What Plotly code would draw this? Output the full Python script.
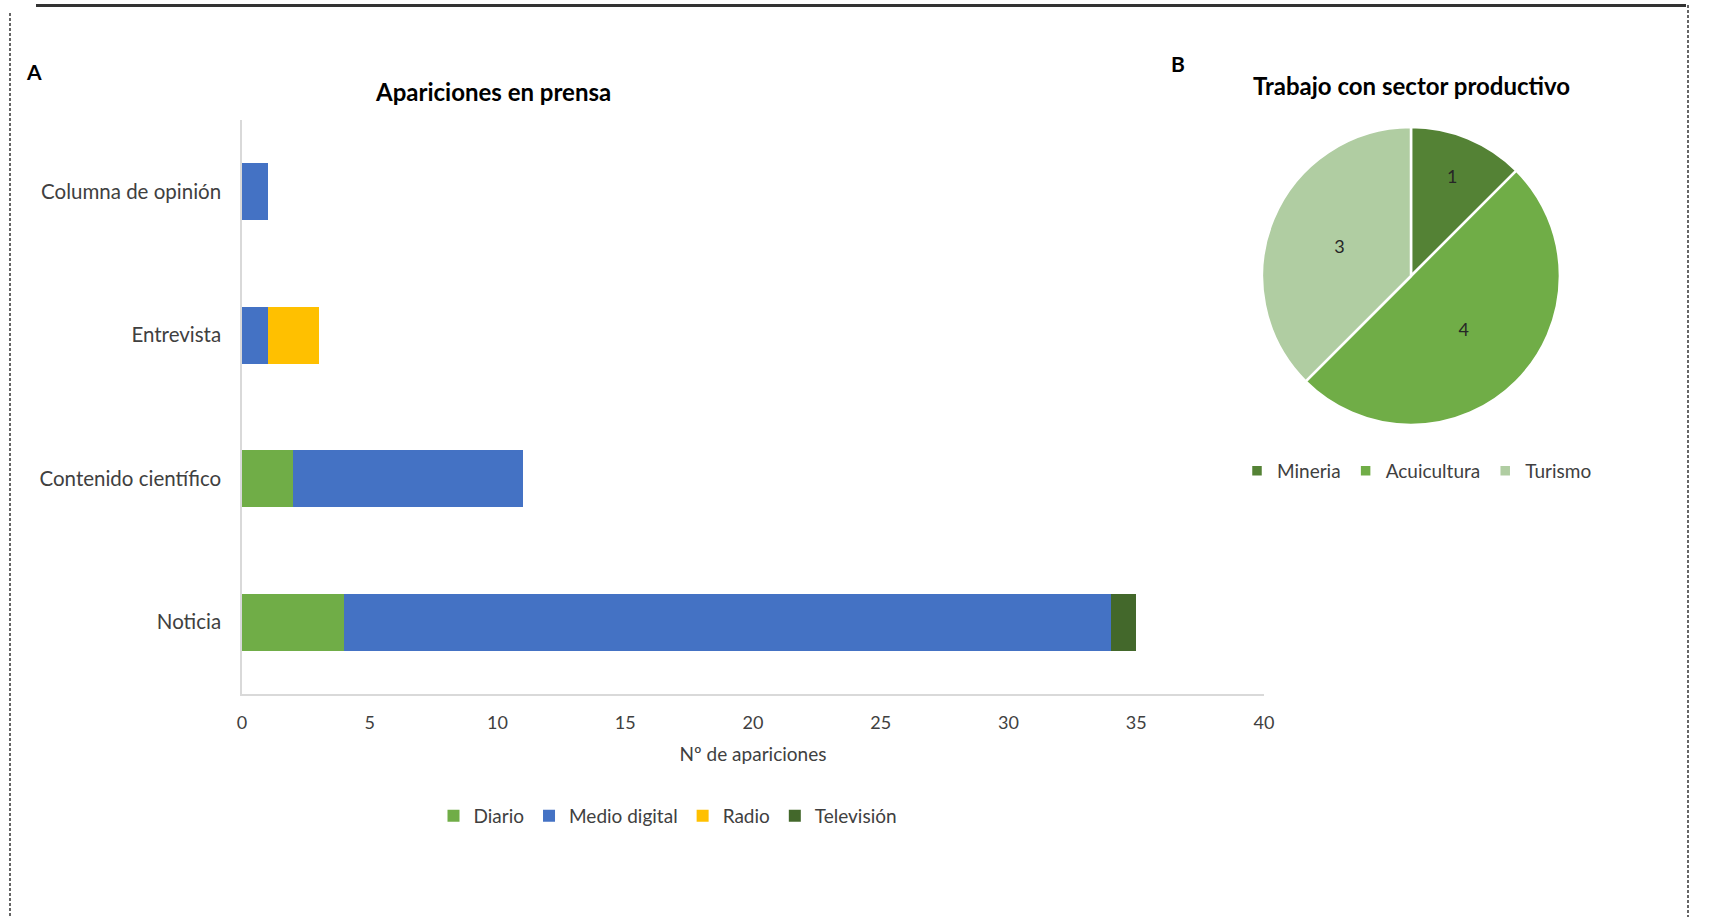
import plotly.graph_objects as go

# ---- Data ----
categorias = ["Columna de opinión", "Entrevista", "Contenido científico", "Noticia"]
diario = [0, 0, 2, 4]
medio_digital = [1, 1, 9, 30]
radio = [0, 2, 0, 0]
television = [0, 0, 0, 1]

x_ticks = [0, 5, 10, 15, 20, 25, 30, 35, 40]

sectores = ["Mineria", "Acuicultura", "Turismo"]
sector_valores = [1, 4, 3]

W, H = 1709, 917
FONT = "Lato"

def px(x):
    return x / W

def py(y):
    return 1 - y / H

fig = go.Figure()

series = [
    ("Diario", diario, "#70AD47"),
    ("Medio digital", medio_digital, "#4472C4"),
    ("Radio", radio, "#FFC000"),
    ("Televisión", television, "#43682B"),
]
for name, vals, col in series:
    fig.add_trace(go.Bar(
        y=categorias, x=vals, name=name, orientation="h",
        marker=dict(color=col, line=dict(width=0)),
        legend="legend", hoverinfo="x+name",
    ))

fig.add_trace(go.Pie(
    labels=sectores, values=sector_valores, sort=False,
    direction="clockwise", rotation=0,
    marker=dict(colors=["#548235", "#70AD47", "#B0CDA2"],
                line=dict(color="white", width=2.5)),
    textinfo="value", textposition="inside",
    insidetextorientation="horizontal",
    textfont=dict(size=18, color="#262626", family=FONT),
    domain=dict(x=[px(1262), px(1560)], y=[py(425), py(127)]),
    legend="legend2", showlegend=True,
))

fig.update_layout(
    width=W, height=H,
    margin=dict(l=0, r=0, t=0, b=0, pad=0, autoexpand=False),
    paper_bgcolor="white", plot_bgcolor="white",
    font=dict(family=FONT, color="#404040", size=18),
    barmode="stack", bargap=0.6,
    xaxis=dict(
        domain=[px(242), px(1264)], range=[0, 40],
        tickvals=x_ticks, showgrid=False, zeroline=False,
        showline=True, linecolor="#D9D9D9", linewidth=1.5,
        ticks="", ticklabelstandoff=12, automargin=False,
        tickfont=dict(size=18, color="#404040"),
        title=dict(text="Nº de apariciones", font=dict(size=19, color="#404040"), standoff=15),
        fixedrange=True,
    ),
    yaxis=dict(
        domain=[py(694), py(120)],
        categoryorder="array", categoryarray=categorias, autorange="reversed",
        showgrid=False, zeroline=False,
        showline=True, linecolor="#D9D9D9", linewidth=1.5,
        ticks="", ticklabelstandoff=15, automargin=False,
        tickfont=dict(size=20.5, color="#404040"),
        fixedrange=True,
    ),
    legend=dict(
        orientation="h", x=px(668), xanchor="center", y=py(816), yanchor="middle",
        font=dict(size=19, color="#404040"), itemwidth=30, traceorder="normal",
        bgcolor="rgba(0,0,0,0)",
    ),
    legend2=dict(
        orientation="h", x=px(1417), xanchor="center", y=py(471), yanchor="middle",
        font=dict(size=19, color="#404040"), itemwidth=30,
        bgcolor="rgba(0,0,0,0)",
    ),
    showlegend=True,
)

annotations = [
    dict(text="<b>Apariciones en prensa</b>", x=px(493), y=py(91), font=dict(size=24, color="#000000")),
    dict(text="<b>Trabajo con sector productivo</b>", x=px(1411), y=py(85), font=dict(size=24, color="#000000")),
    dict(text="<b>A</b>", x=px(34), y=py(72), font=dict(size=21, color="#000000")),
    dict(text="<b>B</b>", x=px(1178), y=py(64), font=dict(size=21, color="#000000")),
]
for a in annotations:
    a.update(xref="paper", yref="paper", xanchor="center", yanchor="middle", showarrow=False)
fig.update_layout(annotations=annotations)

shapes = [
    dict(type="line", xref="paper", yref="paper", x0=px(36), x1=px(1686), y0=py(5.5), y1=py(5.5),
         line=dict(color="#333333", width=3)),
    dict(type="line", xref="paper", yref="paper", x0=px(10), x1=px(10), y0=py(13), y1=0,
         line=dict(color="#333333", width=1.5, dash="3px,2px")),
    dict(type="line", xref="paper", yref="paper", x0=px(1688), x1=px(1688), y0=py(5), y1=0,
         line=dict(color="#333333", width=1.5, dash="3px,2px")),
]
fig.update_layout(shapes=shapes)

fig.write_html("out.html", post_script="document.body.style.margin='0';",
               config={"displayModeBar": False})
